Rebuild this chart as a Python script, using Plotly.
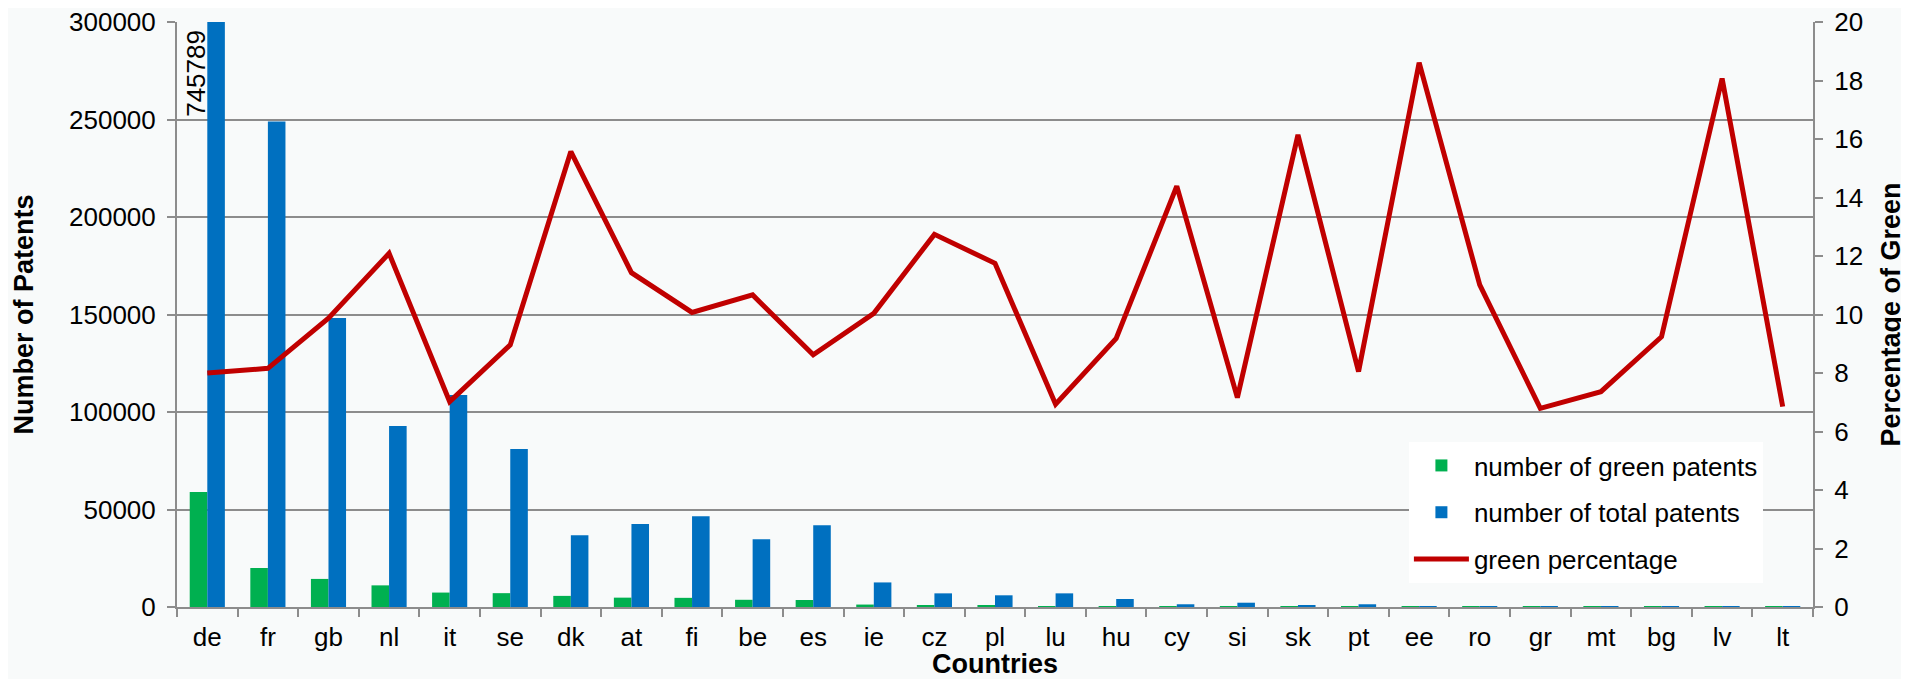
import plotly.graph_objects as go

countries = ["de", "fr", "gb", "nl", "it", "se", "dk", "at", "fi", "be", "es", "ie", "cz", "pl",
             "lu", "hu", "cy", "si", "sk", "pt", "ee", "ro", "gr", "mt", "bg", "lv", "lt"]
green_patents = [59000, 20000, 14400, 11100, 7400, 7100, 5700, 4800, 4700, 3700, 3600, 1250, 900, 700,
                 480, 380, 200, 160, 110, 110, 40, 45, 27, 15, 20, 20, 7]
total_patents = [745789, 249000, 148200, 92800, 108700, 81000, 36800, 42600, 46500, 34700, 41900, 12600, 7000, 6000,
                 7000, 4100, 1400, 2200, 700, 1400, 200, 400, 400, 200, 200, 110, 100]
green_pct = [8.0, 8.16, 9.87, 12.09, 7.02, 8.96, 15.57, 11.43, 10.07, 10.67, 8.62, 10.04, 12.74, 11.75,
             6.93, 9.18, 14.39, 7.16, 16.14, 8.05, 18.61, 11.01, 6.79, 7.36, 9.24, 18.07, 6.85]

left_ticks = [0, 50000, 100000, 150000, 200000, 250000, 300000]
right_ticks = [0, 2, 4, 6, 8, 10, 12, 14, 16, 18, 20]

FONT = "Liberation Sans, Arial, sans-serif"
GRID = "#8c8c8c"
TICKFONT = dict(size=26, family=FONT, color="black")
TITLEFONT = dict(size=27, family=FONT, color="black")

fig = go.Figure()
fig.add_trace(go.Bar(x=countries, y=green_patents, name="number of green patents",
                     marker=dict(color="#00b050", line=dict(width=0)), legendgroup="a"))
fig.add_trace(go.Bar(x=countries, y=total_patents, name="number of total patents",
                     marker=dict(color="#0070c0", line=dict(width=0)), legendgroup="b"))
fig.add_trace(go.Scatter(x=countries, y=green_pct, name="green percentage", mode="lines",
                         line=dict(color="#c00000", width=5), yaxis="y2", legendgroup="c"))

fig.add_annotation(x=countries[0], y=left_ticks[-1], yref="y", text=str(total_patents[0]),
                   textangle=-90, showarrow=False, xanchor="center", yanchor="top",
                   xshift=-12, yshift=-6, font=dict(size=26, color="black", family=FONT))

fig.update_layout(
    width=1901, height=671,
    margin=dict(l=169, r=96, t=14, b=72),
    paper_bgcolor="#f8fafa", plot_bgcolor="#f8fafa",
    font=dict(family=FONT, size=26, color="black"),
    barmode="group", bargap=0.42, bargroupgap=0,
    showlegend=True,
    legend=dict(x=0.753, y=0.282, xanchor="left", yanchor="top", bgcolor="white",
                font=dict(size=26, family=FONT), tracegroupgap=10, itemwidth=55),
    xaxis=dict(title=dict(text="<b>Countries</b>", font=TITLEFONT, standoff=2),
               tickfont=TICKFONT, ticklabelstandoff=6, ticklabeloverflow="allow",
               showline=True, linecolor=GRID, linewidth=2, ticks="outside", tickson="boundaries",
               ticklen=8, tickcolor=GRID, tickwidth=1.5, showgrid=False, automargin=False),
    yaxis=dict(title=dict(text="<b>Number of Patents</b>", font=TITLEFONT, standoff=28),
               tickfont=TICKFONT, ticklabelstandoff=6, ticklabeloverflow="allow",
               range=[0, 300000], tickvals=left_ticks, ticktext=[str(v) for v in left_ticks],
               showline=True, linecolor=GRID, linewidth=2, ticks="outside", ticklen=8,
               tickcolor=GRID, tickwidth=1.5, showgrid=True, gridcolor=GRID, gridwidth=1.5,
               zeroline=False, automargin=False),
    yaxis2=dict(title=dict(text="<b>Percentage of Green</b>", font=TITLEFONT, standoff=19),
                tickfont=TICKFONT, ticklabelstandoff=6, ticklabeloverflow="allow",
                overlaying="y", side="right", range=[0, 20], tickvals=right_ticks,
                showline=True, linecolor=GRID, linewidth=2, ticks="outside", ticklen=8,
                tickcolor=GRID, tickwidth=1.5, showgrid=False, zeroline=False, automargin=False),
)

fig.write_html("out.html")
